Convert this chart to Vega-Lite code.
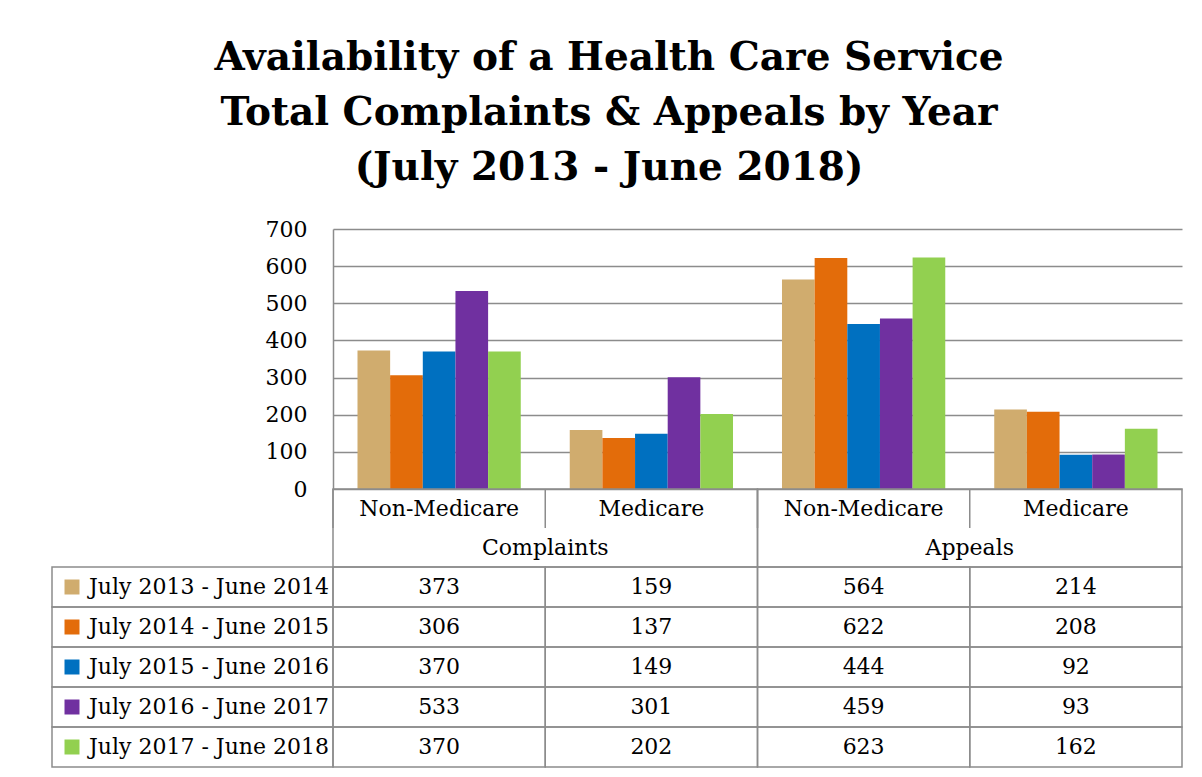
{
  "$schema": "https://vega.github.io/schema/vega-lite/v6.json",
  "background": "white",
  "padding": {"left": 51, "top": 39, "right": 5, "bottom": 5},
  "title": {
    "text": ["Availability of a Health Care Service", "Total Complaints & Appeals by Year", "(July 2013 - June 2018)"],
    "font": "DejaVu Serif",
    "fontSize": 39,
    "fontWeight": "bold",
    "lineHeight": 55,
    "color": "black",
    "anchor": "middle",
    "dx": -8,
    "offset": 30
  },
  "datasets": {
    "main": [
      {"col": "Complaints Non-Medicare", "period": "July 2013 - June 2014", "value": 373},
      {"col": "Complaints Non-Medicare", "period": "July 2014 - June 2015", "value": 306},
      {"col": "Complaints Non-Medicare", "period": "July 2015 - June 2016", "value": 370},
      {"col": "Complaints Non-Medicare", "period": "July 2016 - June 2017", "value": 533},
      {"col": "Complaints Non-Medicare", "period": "July 2017 - June 2018", "value": 370},
      {"col": "Complaints Medicare", "period": "July 2013 - June 2014", "value": 159},
      {"col": "Complaints Medicare", "period": "July 2014 - June 2015", "value": 137},
      {"col": "Complaints Medicare", "period": "July 2015 - June 2016", "value": 149},
      {"col": "Complaints Medicare", "period": "July 2016 - June 2017", "value": 301},
      {"col": "Complaints Medicare", "period": "July 2017 - June 2018", "value": 202},
      {"col": "Appeals Non-Medicare", "period": "July 2013 - June 2014", "value": 564},
      {"col": "Appeals Non-Medicare", "period": "July 2014 - June 2015", "value": 622},
      {"col": "Appeals Non-Medicare", "period": "July 2015 - June 2016", "value": 444},
      {"col": "Appeals Non-Medicare", "period": "July 2016 - June 2017", "value": 459},
      {"col": "Appeals Non-Medicare", "period": "July 2017 - June 2018", "value": 623},
      {"col": "Appeals Medicare", "period": "July 2013 - June 2014", "value": 214},
      {"col": "Appeals Medicare", "period": "July 2014 - June 2015", "value": 208},
      {"col": "Appeals Medicare", "period": "July 2015 - June 2016", "value": 92},
      {"col": "Appeals Medicare", "period": "July 2016 - June 2017", "value": 93},
      {"col": "Appeals Medicare", "period": "July 2017 - June 2018", "value": 162}
    ],
    "cats": [
      {"col": "Complaints Non-Medicare", "label": "Non-Medicare"},
      {"col": "Complaints Medicare", "label": "Medicare"},
      {"col": "Appeals Non-Medicare", "label": "Non-Medicare"},
      {"col": "Appeals Medicare", "label": "Medicare"}
    ],
    "groups": [{"grp": "Complaints"}, {"grp": "Appeals"}],
    "periods": [
      {"period": "July 2013 - June 2014"},
      {"period": "July 2014 - June 2015"},
      {"period": "July 2015 - June 2016"},
      {"period": "July 2016 - June 2017"},
      {"period": "July 2017 - June 2018"}
    ]
  },
  "columns": 2,
  "spacing": 0,
  "bounds": "flush",
  "concat": [
    {
      "width": 281, "height": 260,
      "data": {"name": "groups"},
      "mark": {"type": "text", "text": ""},
      "encoding": {}
    },
    {
      "width": 849, "height": 260,
      "data": {"name": "main"},
      "mark": {"type": "bar"},
      "encoding": {
        "x": {"field": "col", "type": "nominal",
          "scale": {"domain": ["Complaints Non-Medicare", "Complaints Medicare", "Appeals Non-Medicare", "Appeals Medicare"], "paddingInner": 0, "paddingOuter": 0},
          "axis": null},
        "xOffset": {"field": "period", "type": "nominal",
          "scale": {"domain": ["July 2013 - June 2014", "July 2014 - June 2015", "July 2015 - June 2016", "July 2016 - June 2017", "July 2017 - June 2018"], "paddingInner": 0, "paddingOuter": 0.75}},
        "y": {"field": "value", "type": "quantitative",
          "scale": {"domain": [0, 700], "nice": false},
          "axis": {"values": [0, 100, 200, 300, 400, 500, 600, 700], "title": null, "grid": true, "gridColor": "#8c8c8c", "gridWidth": 1.5, "ticks": false, "domain": true, "domainColor": "#8c8c8c", "domainWidth": 1.5, "labelFont": "DejaVu Serif", "labelFontSize": 22, "labelColor": "black", "labelPadding": 26}},
        "color": {"field": "period", "type": "nominal",
          "scale": {"domain": ["July 2013 - June 2014", "July 2014 - June 2015", "July 2015 - June 2016", "July 2016 - June 2017", "July 2017 - June 2018"], "range": ["#D0AC6E", "#E36C0A", "#0070C0", "#7030A0", "#92D050"]},
          "legend": {"title": null, "orient": "none", "legendX": 9, "legendY": 347, "direction": "vertical", "padding": 0, "symbolType": "square", "symbolSize": 225, "symbolStrokeWidth": 0, "symbolOpacity": 1, "labelFont": "DejaVu Serif", "labelFontSize": 22, "labelColor": "black", "labelOffset": 6, "labelLimit": 0, "rowPadding": 18}}
      }
    },
    {
      "width": 281, "height": 78,
      "data": {"name": "groups"},
      "mark": {"type": "text", "text": ""},
      "encoding": {}
    },
    {
      "width": 849, "height": 78,
      "layer": [
        {
          "data": {"name": "groups"},
          "mark": {"type": "rect", "filled": false, "stroke": "#8c8c8c", "strokeWidth": 1.5},
          "encoding": {
            "x": {"field": "grp", "type": "nominal", "scale": {"domain": ["Complaints", "Appeals"], "paddingInner": 0, "paddingOuter": 0}, "axis": null}
          }
        },
        {
          "data": {"name": "groups"},
          "mark": {"type": "text", "font": "DejaVu Serif", "fontSize": 22, "color": "black"},
          "encoding": {
            "x": {"field": "grp", "type": "nominal", "scale": {"domain": ["Complaints", "Appeals"], "paddingInner": 0, "paddingOuter": 0}, "axis": null},
            "y": {"datum": "grp", "type": "nominal", "scale": {"domain": ["cat", "grp"], "paddingInner": 0, "paddingOuter": 0}, "axis": null},
            "text": {"field": "grp"}
          }
        },
        {
          "data": {"name": "cats"},
          "mark": {"type": "text", "font": "DejaVu Serif", "fontSize": 22, "color": "black"},
          "encoding": {
            "x": {"field": "col", "type": "nominal", "scale": {"domain": ["Complaints Non-Medicare", "Complaints Medicare", "Appeals Non-Medicare", "Appeals Medicare"], "paddingInner": 0, "paddingOuter": 0}, "axis": null},
            "y": {"datum": "cat", "type": "nominal", "scale": {"domain": ["cat", "grp"], "paddingInner": 0, "paddingOuter": 0}, "axis": null},
            "text": {"field": "label"}
          }
        },
        {
          "data": {"name": "cats"},
          "mark": {"type": "tick", "orient": "vertical", "size": 39, "thickness": 1.5, "color": "#8c8c8c", "opacity": 1},
          "encoding": {
            "x": {"field": "col", "type": "nominal", "bandPosition": 0, "scale": {"domain": ["Complaints Non-Medicare", "Complaints Medicare", "Appeals Non-Medicare", "Appeals Medicare"], "paddingInner": 0, "paddingOuter": 0}, "axis": null},
            "y": {"datum": "cat", "type": "nominal", "scale": {"domain": ["cat", "grp"], "paddingInner": 0, "paddingOuter": 0}, "axis": null}
          }
        }
      ],
      "resolve": {"scale": {"x": "independent"}}
    },
    {
      "width": 281, "height": 200,
      "data": {"name": "periods"},
      "mark": {"type": "rect", "filled": false, "stroke": "#8c8c8c", "strokeWidth": 1.5},
      "encoding": {
        "y": {"field": "period", "type": "nominal", "scale": {"domain": ["July 2013 - June 2014", "July 2014 - June 2015", "July 2015 - June 2016", "July 2016 - June 2017", "July 2017 - June 2018"], "paddingInner": 0, "paddingOuter": 0}, "axis": null}
      }
    },
    {
      "width": 849, "height": 200,
      "data": {"name": "main"},
      "encoding": {
        "x": {"field": "col", "type": "nominal", "scale": {"domain": ["Complaints Non-Medicare", "Complaints Medicare", "Appeals Non-Medicare", "Appeals Medicare"], "paddingInner": 0, "paddingOuter": 0}, "axis": null},
        "y": {"field": "period", "type": "nominal", "scale": {"domain": ["July 2013 - June 2014", "July 2014 - June 2015", "July 2015 - June 2016", "July 2016 - June 2017", "July 2017 - June 2018"], "paddingInner": 0, "paddingOuter": 0}, "axis": null}
      },
      "layer": [
        {"mark": {"type": "rect", "filled": false, "stroke": "#8c8c8c", "strokeWidth": 1.5}},
        {"mark": {"type": "text", "font": "DejaVu Serif", "fontSize": 22, "color": "black"},
         "encoding": {"text": {"field": "value", "type": "quantitative"}}}
      ]
    }
  ],
  "config": {
    "view": {"stroke": null},
    "font": "DejaVu Serif"
  }
}
